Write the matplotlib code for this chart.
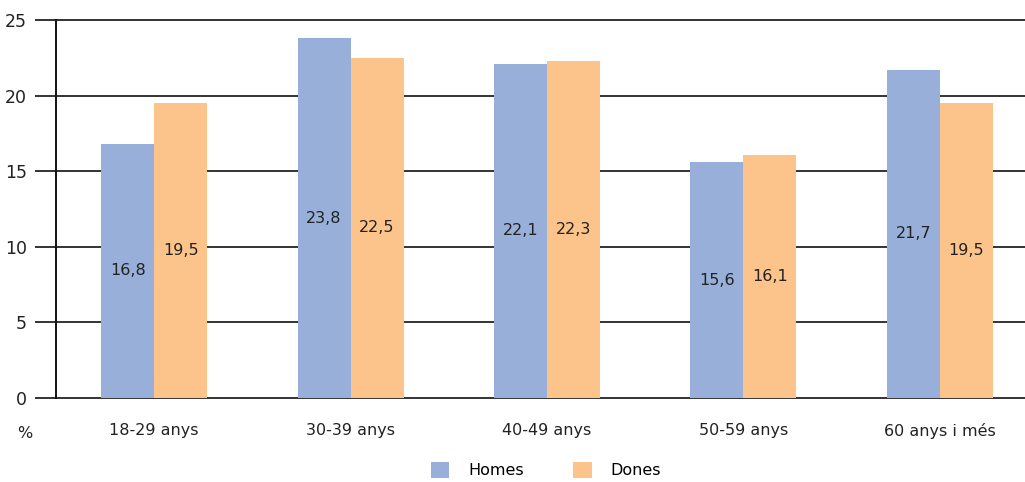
import matplotlib.pyplot as plt
import numpy as np

categories = ['18-29 anys', '30-39 anys', '40-49 anys', '50-59 anys', '60 anys i més']
homes = [16.8, 23.8, 22.1, 15.6, 21.7]
dones = [19.5, 22.5, 22.3, 16.1, 19.5]
yticks = [0, 5, 10, 15, 20, 25]

c_homes = '#97afd9'
c_dones = '#fcc48a'
grid = '#333333'

plt.rcParams['font.family'] = ['DejaVu Sans']

fig = plt.figure(figsize=(10.25, 4.82), dpi=100)
# axes run a little past the right edge, as in the original
ax = fig.add_axes([56/1025, 84/482, 982/1025, 378/482])

x = np.arange(len(categories))
w = 0.27

b1 = ax.bar(x - w/2, homes, w, color=c_homes, label='Homes', zorder=3)
b2 = ax.bar(x + w/2, dones, w, color=c_dones, label='Dones', zorder=3)

for bars, vals in [(b1, homes), (b2, dones)]:
    for rect, v in zip(bars, vals):
        ax.text(rect.get_x() + rect.get_width()/2, v/2,
                ('%.1f' % v).replace('.', ','),
                ha='center', va='center', fontsize=11.5, color='#222222', zorder=4)

ax.set_xlim(-0.5, len(categories) - 0.5)
ax.set_ylim(0, 25)
ax.set_yticks(yticks)
ax.set_yticklabels([str(t) for t in yticks])
ax.set_xticks(x)
ax.set_xticklabels(categories)

ax.yaxis.grid(True, color=grid, linewidth=1.4, zorder=0)
for gl in ax.get_ygridlines():
    gl.set_clip_on(False)
ax.tick_params(axis='y', length=15, width=1.4, color=grid, labelsize=12.5, pad=6)
ax.tick_params(axis='x', length=0, labelsize=11.5, pad=18)
for lbl in ax.get_xticklabels() + ax.get_yticklabels():
    lbl.set_color('#222222')

for s in ['top', 'right', 'bottom']:
    ax.spines[s].set_visible(False)
ax.spines['left'].set_color('#111111')
ax.spines['left'].set_linewidth(1.4)

fig.text(25/1025, 1 - 433/482, '%', ha='center', va='center', fontsize=11.5, color='#222222')

leg = fig.legend(handles=[b1, b2], loc='center', bbox_to_anchor=(546/1025, 1 - 470/482),
                 ncol=2, frameon=False, fontsize=11.5, handlelength=1.15, handleheight=1.2,
                 columnspacing=3.1, handletextpad=1.2)

plt.savefig('out.png', dpi=100)
